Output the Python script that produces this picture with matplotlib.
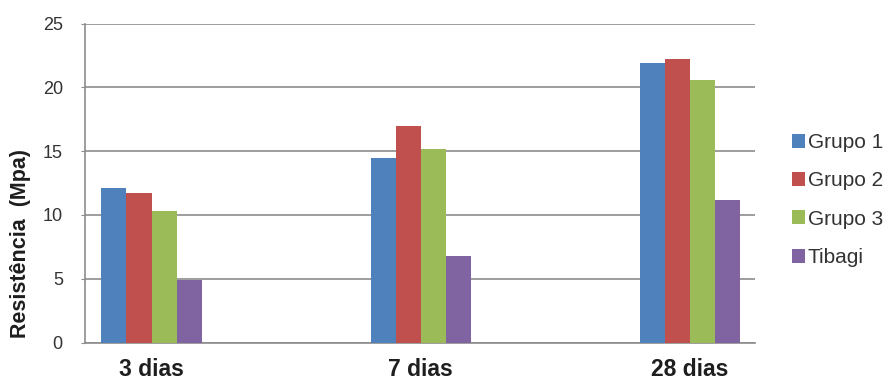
import numpy as np
import matplotlib.pyplot as plt

plt.rcParams['font.family'] = ['Liberation Sans', 'DejaVu Sans']

idades = ['3 dias', '7 dias', '28 dias']
grupo1 = [12.1, 14.5, 21.9]
grupo2 = [11.7, 17.0, 22.2]
grupo3 = [10.3, 15.2, 20.6]
tibagi = [4.9, 6.8, 11.2]

series = [('Grupo 1', grupo1, '#4F81BD'),
          ('Grupo 2', grupo2, '#C0504D'),
          ('Grupo 3', grupo3, '#9BBB59'),
          ('Tibagi', tibagi, '#8064A2')]

fig = plt.figure(figsize=(8.86, 3.81), dpi=100)
ax = fig.add_axes([0.096, 0.101, 0.756, 0.837])

x = np.arange(len(idades))
w = 0.093
for i, (nome, vals, cor) in enumerate(series):
    ax.bar(x + (i - 1.5) * w, vals, w, color=cor, label=nome, zorder=3)

ax.set_ylim(0, 25)
ax.set_yticks(range(0, 26, 5))
ax.set_xlim(-0.247, 2.242)
ax.set_xticks(x)
ax.set_xticklabels(idades, fontsize=16.5, fontweight='bold', color='#1e1e1e')
ax.tick_params(axis='x', length=0, pad=11)
ax.tick_params(axis='y', length=3, color='#8c8c8c', labelsize=13,
               labelcolor='#333333', pad=13)

ax.yaxis.grid(True, color='#8c8c8c', linewidth=1.2, zorder=0)
for s in ['top', 'right']:
    ax.spines[s].set_visible(False)
for s in ['left', 'bottom']:
    ax.spines[s].set_color('#8c8c8c')
    ax.spines[s].set_linewidth(1.2)

# y-axis title sits a little below the axes centre
fig.text(0.0226, 0.362, 'Resistência  (Mpa)', rotation=90, fontsize=15.5,
         fontweight='bold', color='#1e1e1e', ha='center', va='center')

ax.legend(loc='center left', bbox_to_anchor=(1.055, 0.447), frameon=False,
          fontsize=15, handlelength=0.65, handleheight=0.65,
          handletextpad=0.12, labelspacing=0.93, borderpad=0,
          borderaxespad=0, labelcolor='#333333')

fig.savefig('out.png', dpi=100)
